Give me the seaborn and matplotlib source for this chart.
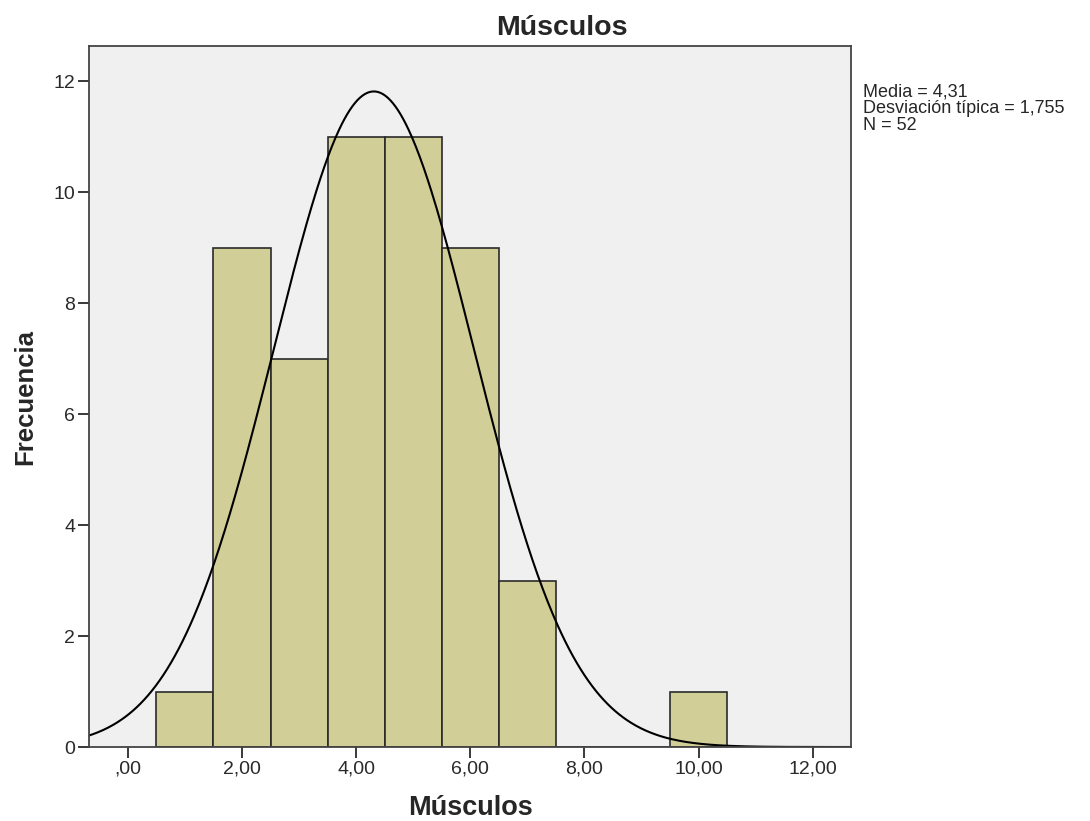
import numpy as np
import pandas as pd
import matplotlib
matplotlib.use("Agg")
import matplotlib.pyplot as plt
import seaborn as sns

# Data
values = [1, 2, 3, 4, 5, 6, 7, 8, 9, 10]
counts = [1, 9, 7, 11, 11, 9, 3, 0, 0, 1]
mean_val = 4.31
sd_val = 1.755
n_val = 52
xticks = [0, 2, 4, 6, 8, 10, 12]
xtick_labels = [",00", "2,00", "4,00", "6,00", "8,00", "10,00", "12,00"]
yticks = [0, 2, 4, 6, 8, 10, 12]

sns.set_style("ticks")
plt.rcParams['font.family'] = ['Liberation Sans', 'DejaVu Sans']

fig = plt.figure(figsize=(10.9, 8.21), dpi=100)
ax = fig.add_axes([0.0817, 0.0901, 0.6990, 0.8539])
ax.set_facecolor("#F0F0F0")

df = pd.DataFrame({"x": values, "w": counts})
sns.histplot(data=df, x="x", weights="w", discrete=True, ax=ax,
             color="#D2CE98", alpha=1.0, edgecolor="#2a2a2a", linewidth=1.2)

xs = np.linspace(-0.7, 12.7, 600)
ys = n_val * 1.0 / (sd_val * np.sqrt(2 * np.pi)) * np.exp(-0.5 * ((xs - mean_val) / sd_val) ** 2)
sns.lineplot(x=xs, y=ys, ax=ax, color="black", linewidth=1.5)

ax.set_xlim(-0.68, 12.67)
ax.set_ylim(0, 12.64)
ax.set_xticks(xticks)
ax.set_xticklabels(xtick_labels)
ax.set_yticks(yticks)
ax.tick_params(axis="both", direction="out", length=8, width=1.3, labelsize=14,
               colors="#2a2a2a", pad=2)
for s in ax.spines.values():
    s.set_color("#444444")
    s.set_linewidth(1.3)
    s.set_visible(True)

ax.set_title("Músculos", fontsize=20.5, fontweight="bold", pad=8, x=0.621)
ax.set_xlabel("Músculos", fontsize=19.5, fontweight="bold")
ax.set_ylabel("Frecuencia", fontsize=18.5, fontweight="bold")
ax.xaxis.set_label_coords(0.5, -0.068)
ax.yaxis.set_label_coords(-0.068, 0.5)

fig.text(0.792, 0.898, "Media = 4,31\nDesviación típica = 1,755\nN = 52",
         fontsize=13, va="top", ha="left", linespacing=0.97)

fig.savefig("out.png", dpi=100)
